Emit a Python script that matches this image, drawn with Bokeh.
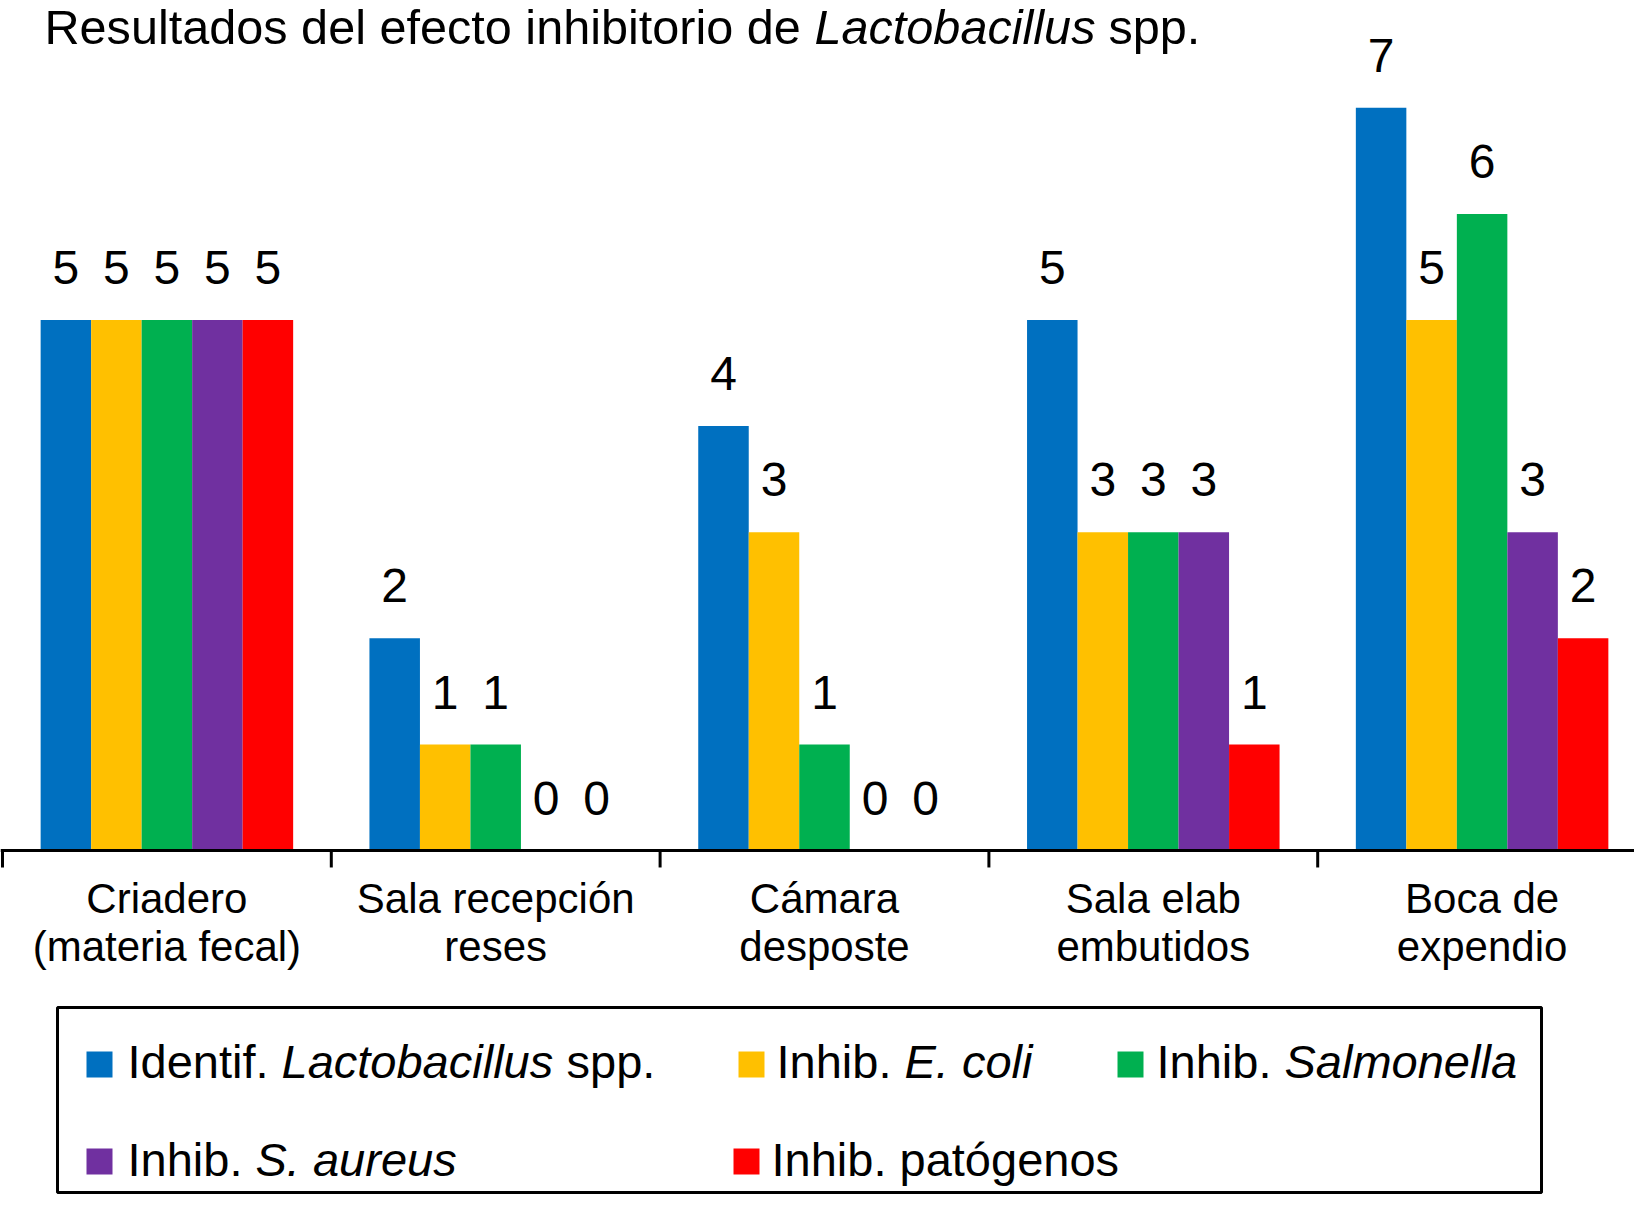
from bokeh.plotting import figure
from bokeh.models import Range1d, Span
from bokeh.core.properties import value
from bokeh.embed import file_html
from bokeh.resources import INLINE

# data
cat_line1 = ["Criadero", "Sala recepción", "Cámara", "Sala elab", "Boca de"]
cat_line2 = ["(materia fecal)", "reses", "desposte", "embutidos", "expendio"]

lacto = [5, 2, 4, 5, 7]
ecoli = [5, 1, 3, 3, 5]
salmonella = [5, 1, 1, 3, 6]
saureus = [5, 0, 0, 3, 3]
patogenos = [5, 0, 0, 1, 2]

series = [lacto, ecoli, salmonella, saureus, patogenos]
colors = ["#0070C0", "#FFC000", "#00B050", "#7030A0", "#FF0000"]

FONT = value("Liberation Sans")

# layout: page pixels -> data units
W, H = 1634, 1195
PX_CAT = 328.8          # pixels per category
PX_UNIT = 106.1         # pixels per count
AXIS_Y = 850            # axis line, pixels from top
X0 = -2 / PX_CAT
LIFT = 0.34             # baseline correction, in em


def xd(px):
    return X0 + px / PX_CAT


def yd(py):
    return (AXIS_Y - py) / PX_UNIT


p = figure(width=W, height=H,
           x_range=Range1d(xd(0), xd(W)),
           y_range=Range1d(yd(H), yd(0)),
           output_backend="svg", toolbar_location=None,
           x_axis_location=None, y_axis_location=None,
           min_border=0, outline_line_color=None)
p.grid.visible = False

# bars
BAR_W = 0.1536
for j, vals in enumerate(series):
    xs = [i + 0.5 + (j - 2) * BAR_W for i in range(len(vals))]
    p.vbar(x=xs, top=vals, bottom=0, width=BAR_W,
           fill_color=colors[j], line_color=None)
    p.text(x=xs, y=[v + (36 + LIFT * 48) / PX_UNIT for v in vals],
           text=[str(v) for v in vals],
           text_align="center", text_baseline="alphabetic",
           text_font=FONT, text_font_size="48px", text_color="black")

# category axis
p.add_layout(Span(location=0, dimension="width", line_color="black", line_width=3))
bounds = list(range(len(cat_line1) + 1))
p.segment(x0=bounds, y0=[0] * len(bounds), x1=bounds, y1=[-0.16] * len(bounds),
          line_color="black", line_width=3)
centers = [i + 0.5 for i in range(len(cat_line1))]
p.text(x=centers, y=[yd(912 - LIFT * 42)] * 5, text=cat_line1, text_align="center",
       text_baseline="alphabetic", text_font=FONT, text_font_size="42px", text_color="black")
p.text(x=centers, y=[yd(960 - LIFT * 42)] * 5, text=cat_line2, text_align="center",
       text_baseline="alphabetic", text_font=FONT, text_font_size="42px", text_color="black")


def write(px, py, txt, size, italic=False):
    p.text(x=[xd(px)], y=[yd(py - LIFT * size)], text=[txt], text_align="left",
           text_baseline="alphabetic", text_font=FONT, text_font_size=f"{size}px",
           text_font_style="italic" if italic else "normal", text_color="black")


# title
write(44, 43, "Resultados del efecto inhibitorio de", 48.6)
write(814, 43, "Lactobacillus", 48.6, True)
write(1108, 43, "spp.", 48.6)

# legend
p.quad(left=xd(57), right=xd(1541), top=yd(1007), bottom=yd(1192),
       fill_color=None, line_color="black", line_width=3)

sw_left = [86, 738, 1117, 86, 733]
sw_top = [1051, 1051, 1051, 1148, 1148]
p.quad(left=[xd(x) for x in sw_left], right=[xd(x + 26) for x in sw_left],
       top=[yd(y) for y in sw_top], bottom=[yd(y + 26) for y in sw_top],
       fill_color=colors, line_color=None)

LS = 47
write(127, 1077, "Identif.", LS)
write(281, 1077, "Lactobacillus", LS, True)
write(566, 1077, "spp.", LS)
write(776, 1077, "Inhib.", LS)
write(904, 1077, "E. coli", LS, True)
write(1156, 1077, "Inhib.", LS)
write(1284, 1077, "Salmonella", LS, True)
write(127, 1175, "Inhib.", LS)
write(255, 1175, "S. aureus", LS, True)
write(771, 1175, "Inhib. patógenos", LS)

open("out.html", "w").write(file_html(p, INLINE))
